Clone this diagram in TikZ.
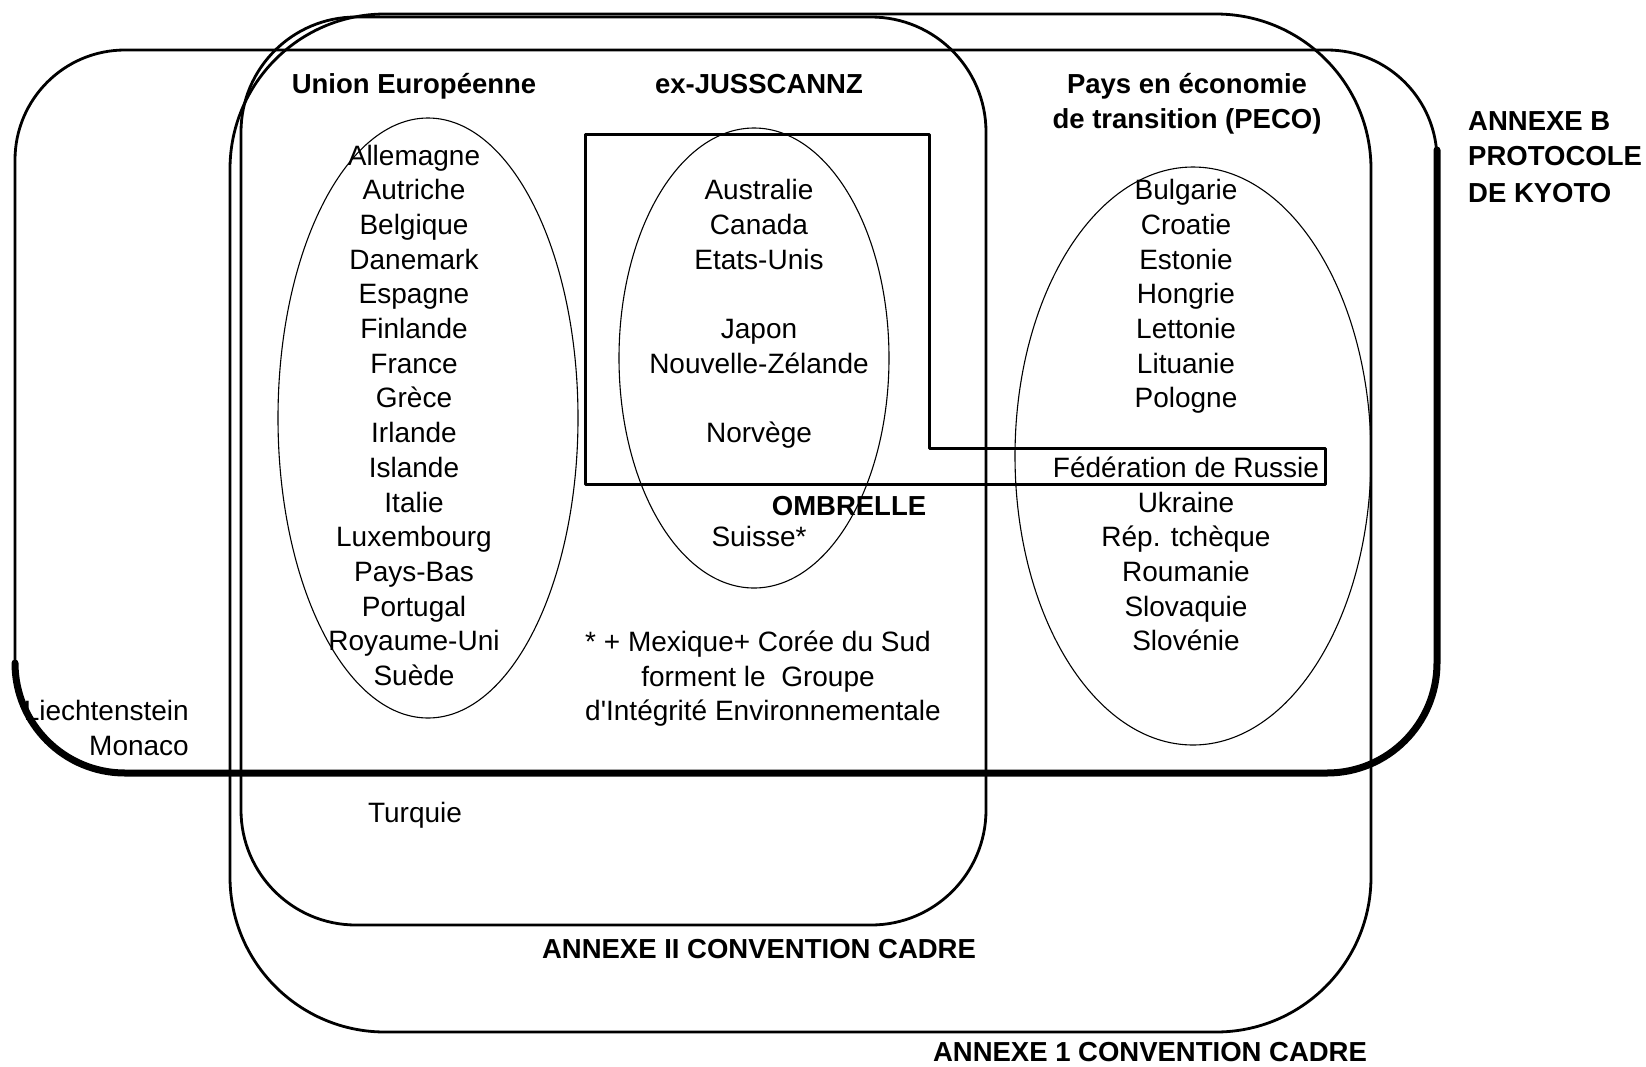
\documentclass[tikz,border=0pt]{standalone}
\usepackage{fontspec}
\setmainfont{Liberation Sans}
\usetikzlibrary{positioning}
\tikzset{
  ky diagram/.style={x=1pt, y=-1pt, line cap=round, line join=round},
  ky frame/.style={draw=black, line width=2.8pt},
  ky heavy/.style={draw=black, line width=7pt},
  ky set/.style={draw=black, line width=1.1pt},
  ky umbrella/.style={draw=black, line width=3pt},
  ky country/.style={font=\fontsize{28}{34}\selectfont, inner sep=0pt,
    text height=20pt, text depth=0pt},
  ky title/.style={ky country, font=\fontsize{27.5}{34}\selectfont\bfseries}
}
\begin{document}
\begin{tikzpicture}[ky diagram]
\useasboundingbox (0,0) rectangle (1646,1066);
% frames
\draw[ky frame, rounded corners=155pt] (230,14) rectangle (1371,1032);
\draw[ky frame, rounded corners=115pt] (241,17) rectangle (986,925);
\draw[ky frame, rounded corners=110pt] (15,50) rectangle (1437,773);
\draw[ky heavy, rounded corners=110pt] (1437,150) -- (1437,773) -- (15,773) -- (15,663);
% groups
\draw[ky set] (428,418) ellipse [x radius=150, y radius=300];
\draw[ky set] (754,358) ellipse [x radius=135, y radius=230];
\draw[ky set] (1193,456) ellipse [x radius=178, y radius=289];
\draw[ky umbrella] (585,134) -- (929,134) -- (929,448) -- (1325,448) -- (1325,484) -- (585,484) -- cycle;
% titles
\node[ky title] (ue title) at (414,83) {Union Européenne};
\node[ky title] (jus title) at (759,83) {ex-JUSSCANNZ};
\node[ky title] (peco title a) at (1187,83) {Pays en économie};
\node[ky title] (peco title b) at (1187,118) {de transition (PECO)};
\node[ky title, anchor=west] (kyoto a) at (1468,120) {ANNEXE B};
\node[ky title, anchor=west] (kyoto b) at (1468,155) {PROTOCOLE};
\node[ky title, anchor=west] (kyoto c) at (1468,192) {DE KYOTO};
% countries
\foreach \pays [count=\i] in {Allemagne,Autriche,Belgique,Danemark,Espagne,Finlande,France,Grèce,
    Irlande,Islande,Italie,Luxembourg,Pays-Bas,Portugal,Royaume-Uni,Suède}
  \node[ky country] (ue-\i) at (414,{155+(\i-1)*34.7}) {\pays};
\foreach \row/\pays in {2/Australie,3/Canada,4/Etats-Unis,6/Japon,7/Nouvelle-Zélande,9/Norvège,12/Suisse*}
  \node[ky country] (jus-\row) at (759,{155+(\row-1)*34.7}) {\pays};
\foreach \row/\pays in {2/Bulgarie,3/Croatie,4/Estonie,5/Hongrie,6/Lettonie,7/Lituanie,8/Pologne,
    10/Fédération de Russie,11/Ukraine,12/Rép. tchèque,13/Roumanie,14/Slovaquie,15/Slovénie}
  \node[ky country] (peco-\row) at (1186,{155+(\row-1)*34.7}) {\pays};
\node[ky title] (ombrelle) at (849,505) {OMBRELLE};
\node[ky country] (gie a) at (758,641) {* + Mexique+ Corée du Sud};
\node[ky country] (gie b) at (758,676) {forment le~ Groupe};
\node[ky country] (gie c) at (763,710) {d\textquotesingle Intégrité Environnementale};
\node[ky country, anchor=east] (liech) at (189,710) {Liechtenstein};
\node[ky country, anchor=east] (monaco) at (189,745) {Monaco};
\node[ky country] (turquie) at (415,812) {Turquie};
% annex labels
\node[ky title] (annexe two) at (759,948) {ANNEXE II CONVENTION CADRE};
\node[ky title] (annexe one) at (1150,1051) {ANNEXE 1 CONVENTION CADRE};
\end{tikzpicture}
\end{document}
